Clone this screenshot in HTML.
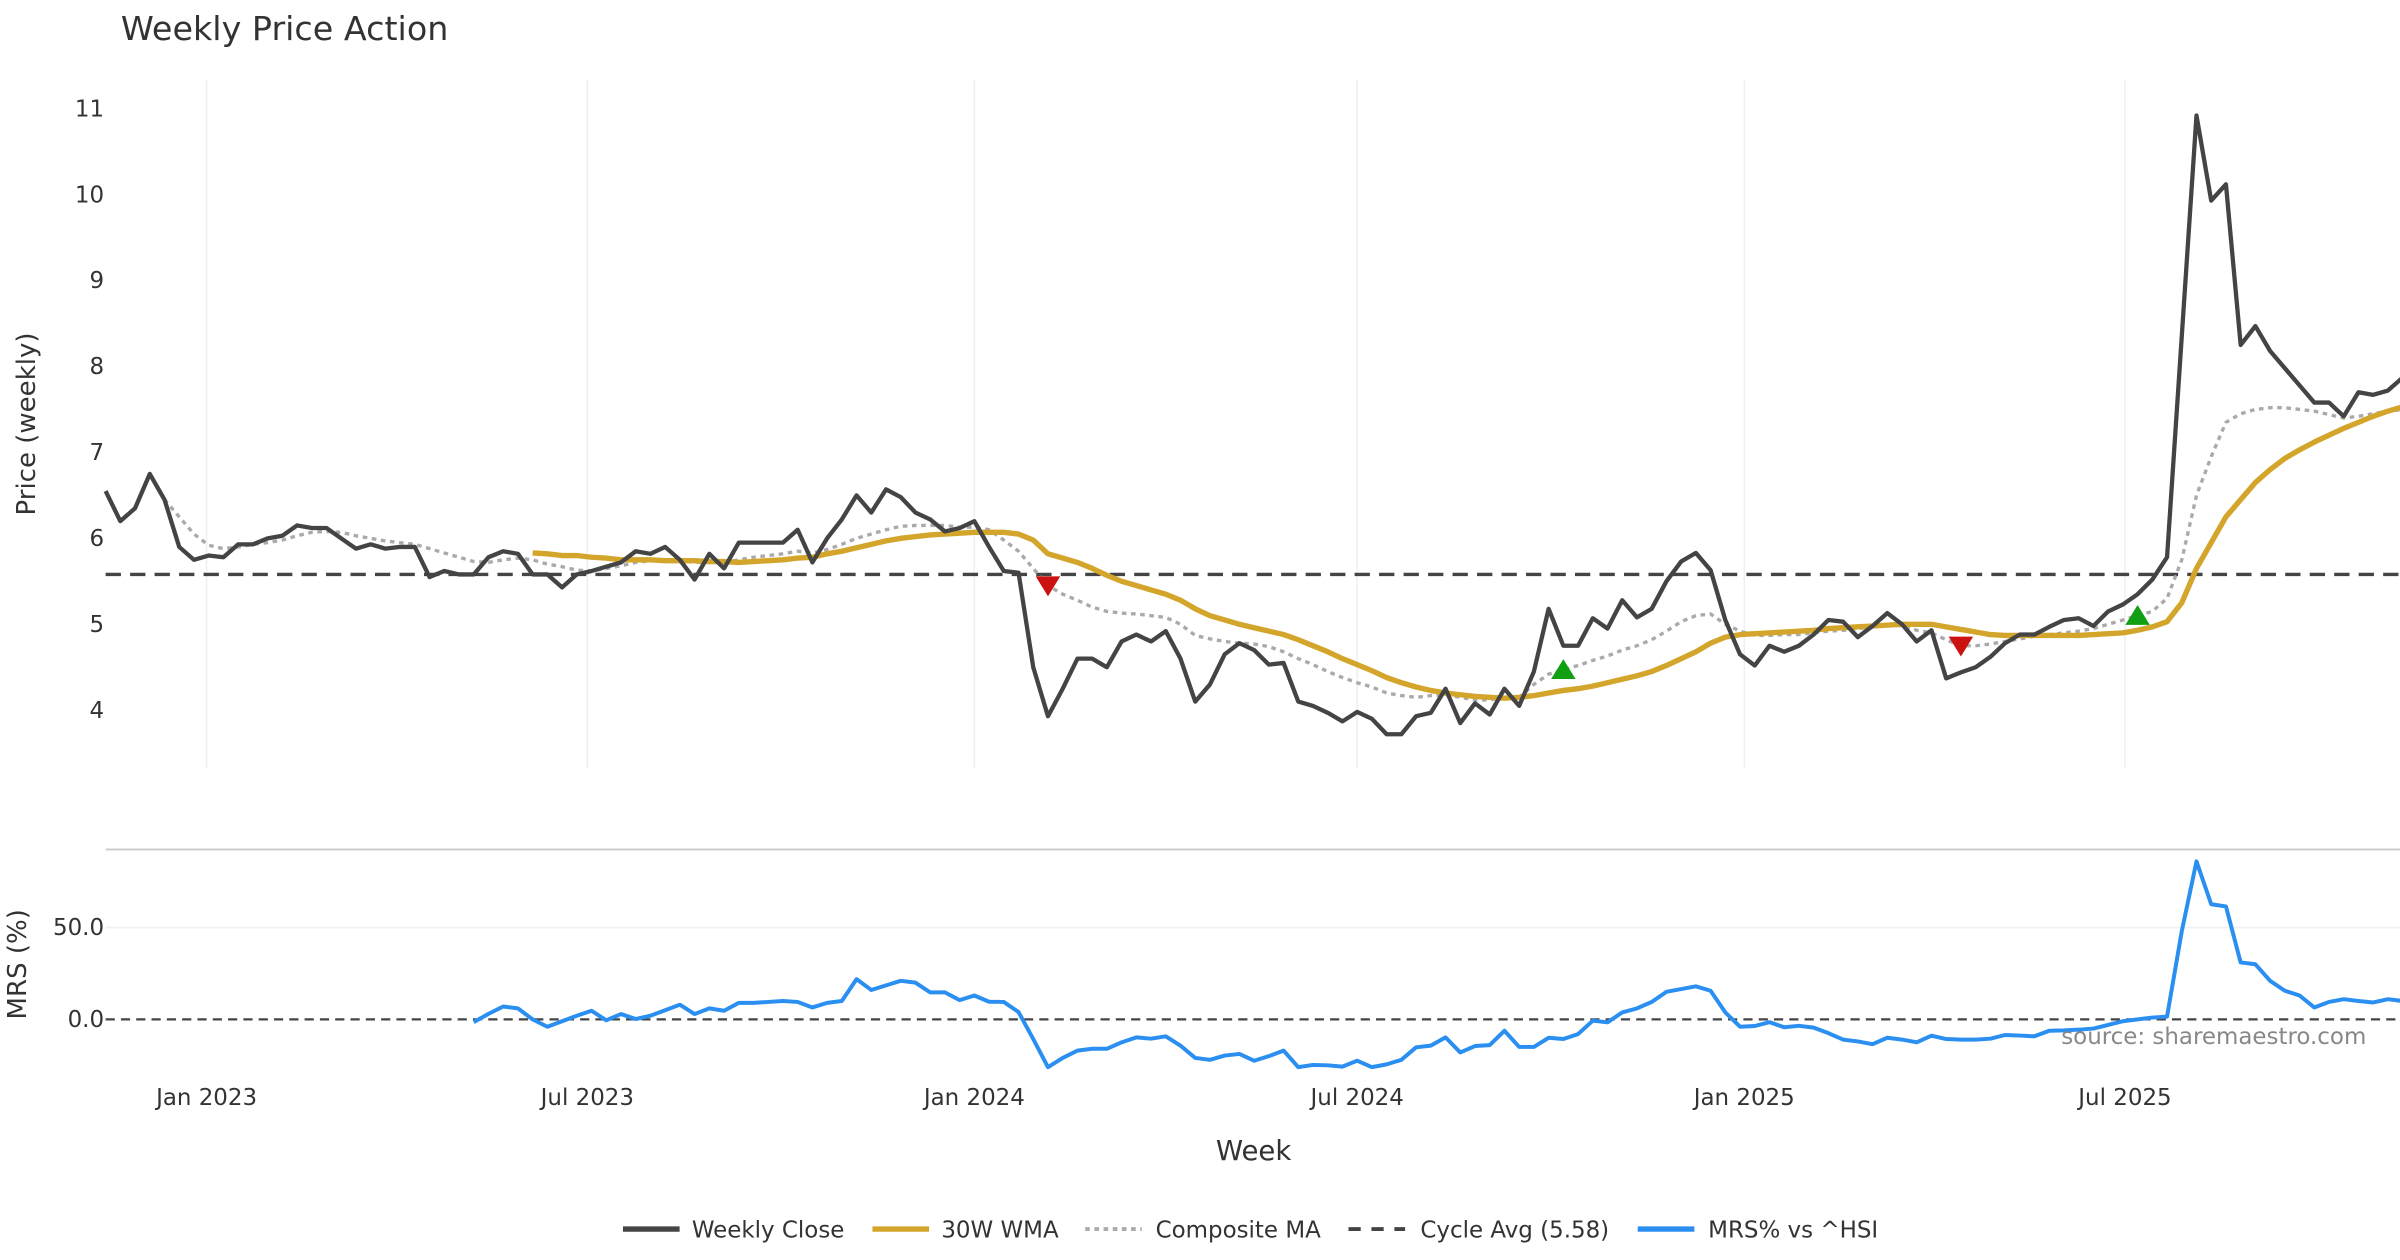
<!DOCTYPE html>
<html><head><meta charset="utf-8">
<style>
html,body{margin:0;padding:0;background:#fff;}
svg{display:block;}
text{font-family:"DejaVu Sans","Liberation Sans",sans-serif;}
</style></head>
<body>
<svg id="chart" width="2400" height="1260" viewBox="0 0 1568 823.2" xmlns="http://www.w3.org/2000/svg">
<rect width="1568" height="823.2" fill="#fff"/>
<text x="79" y="26" font-size="21.8" fill="#333">Weekly Price Action</text>
<g id="grid"></g>
<g id="series"></g>
<g id="axes"></g>
<text transform="translate(23,277) rotate(-90)" text-anchor="middle" font-size="17" fill="#333">Price (weekly)</text>
<text transform="translate(17,630) rotate(-90)" text-anchor="middle" font-size="17" fill="#333">MRS (%)</text>
<text x="819" y="758" text-anchor="middle" font-size="18" fill="#333">Week</text>
<text x="1546" y="682" text-anchor="end" font-size="15" fill="#888">source: sharemaestro.com</text>
<g id="legend"></g>
</svg>
<script>
const closeVals=[6.55,6.2,6.35,6.75,6.45,5.9,5.75,5.8,5.78,5.93,5.93,6.0,6.03,6.15,6.12,6.12,6.0,5.88,5.93,5.88,5.9,5.9,5.55,5.62,5.58,5.58,5.78,5.85,5.82,5.58,5.58,5.43,5.58,5.62,5.67,5.72,5.85,5.82,5.9,5.75,5.52,5.82,5.65,5.95,5.95,5.95,5.95,6.1,5.72,6.0,6.22,6.5,6.3,6.57,6.48,6.3,6.22,6.08,6.12,6.2,5.9,5.62,5.6,4.5,3.93,4.25,4.6,4.6,4.5,4.8,4.88,4.8,4.92,4.6,4.1,4.3,4.65,4.78,4.7,4.53,4.55,4.1,4.05,3.97,3.87,3.98,3.9,3.72,3.72,3.93,3.97,4.25,3.85,4.08,3.95,4.25,4.05,4.45,5.18,4.75,4.75,5.07,4.95,5.28,5.08,5.18,5.5,5.73,5.83,5.63,5.05,4.65,4.52,4.75,4.68,4.75,4.88,5.05,5.03,4.85,4.98,5.13,5.0,4.8,4.93,4.37,4.44,4.5,4.62,4.78,4.88,4.88,4.97,5.05,5.07,4.98,5.15,5.23,5.35,5.52,5.78,8.35,10.92,9.93,10.12,8.25,8.47,8.18,7.98,7.78,7.58,7.58,7.42,7.7,7.67,7.72,7.87];
const wmaStart=29;
const wmaVals=[5.83,5.82,5.8,5.8,5.78,5.77,5.75,5.75,5.75,5.74,5.74,5.74,5.73,5.73,5.72,5.73,5.74,5.75,5.77,5.78,5.82,5.85,5.89,5.93,5.97,6.0,6.02,6.04,6.05,6.06,6.07,6.07,6.07,6.05,5.98,5.82,5.77,5.72,5.65,5.57,5.5,5.45,5.4,5.35,5.28,5.18,5.1,5.05,5.0,4.96,4.92,4.88,4.82,4.75,4.68,4.6,4.53,4.46,4.38,4.32,4.27,4.23,4.2,4.18,4.16,4.15,4.14,4.15,4.17,4.2,4.23,4.25,4.28,4.32,4.36,4.4,4.45,4.52,4.6,4.68,4.78,4.85,4.88,4.89,4.9,4.91,4.92,4.93,4.95,4.96,4.97,4.98,4.99,5.0,5.0,5.0,4.97,4.94,4.91,4.88,4.87,4.87,4.87,4.87,4.87,4.87,4.88,4.89,4.9,4.93,4.97,5.03,5.25,5.65,5.95,6.25,6.45,6.65,6.8,6.93,7.03,7.12,7.2,7.28,7.35,7.42,7.48,7.53];
const compStart=4;
const compVals=[6.45,6.25,6.05,5.92,5.88,5.9,5.93,5.95,5.98,6.03,6.07,6.08,6.07,6.03,6.0,5.97,5.95,5.93,5.88,5.83,5.78,5.73,5.72,5.75,5.77,5.75,5.7,5.67,5.63,5.62,5.65,5.68,5.72,5.74,5.75,5.75,5.72,5.72,5.72,5.75,5.78,5.8,5.82,5.85,5.83,5.87,5.93,6.0,6.05,6.1,6.14,6.15,6.15,6.15,6.13,6.13,6.1,5.98,5.85,5.65,5.45,5.35,5.28,5.2,5.15,5.13,5.12,5.1,5.08,5.0,4.87,4.83,4.8,4.78,4.77,4.74,4.68,4.6,4.53,4.45,4.38,4.32,4.27,4.2,4.17,4.15,4.17,4.18,4.15,4.12,4.12,4.15,4.15,4.3,4.42,4.47,4.52,4.58,4.63,4.7,4.75,4.82,4.92,5.03,5.1,5.12,5.0,4.92,4.87,4.87,4.88,4.88,4.9,4.92,4.93,4.95,4.97,5.0,4.98,4.93,4.9,4.82,4.75,4.75,4.77,4.8,4.83,4.86,4.88,4.9,4.92,4.95,5.0,5.05,5.1,5.15,5.3,5.75,6.5,6.95,7.35,7.45,7.5,7.52,7.52,7.5,7.48,7.44,7.4,7.42,7.45,7.48,7.5];
const mrsStart=25;
const mrsVals=[-1.5,3,7,6,0,-4,-1,2,4.7,-0.5,2.9,0.2,2,5,8,2.9,6,4.7,9,9,9.5,10,9.5,6.5,9,10,21.9,16,18.5,21,20,14.7,14.7,10.5,13,9.6,9.5,4,-10.7,-26,-21,-17,-16,-16,-12.5,-9.8,-10.5,-9.2,-14.3,-21,-22,-19.7,-18.8,-22.5,-20,-17,-26,-24.8,-25,-25.7,-22.5,-26,-24.5,-22,-15.2,-14.3,-9.8,-18,-14.5,-14,-6.2,-15,-15,-10,-10.7,-8,-0.7,-1.6,3.8,6,9.5,15,16.5,18,15.6,3.8,-4,-3.6,-1.5,-4.3,-3.5,-4.5,-7.5,-11,-12,-13.5,-10,-11,-12.5,-8.9,-10.7,-11,-11,-10.5,-8.5,-8.8,-9.2,-6.2,-6,-5.6,-5,-3,-1,0,1,1.5,48,86,62.7,61.5,31,30,21,15.6,13,6.5,9.5,11,10,9.2,11,10];
const sellSignals=[64,126];
const buySignals=[99,138];
const cycleAvg=5.58;
const priceTicks=[4,5,6,7,8,9,10,11];
const mrsTicks=[0,50];
const mrsTickLabels=["0.0","50.0"];
const dateTicks=["2023-01-01","2023-07-01","2024-01-01","2024-07-01","2025-01-01","2025-07-01"];
const dateTickLabels=["Jan 2023","Jul 2023","Jan 2024","Jul 2024","Jan 2025","Jul 2025"];

const NS="http://www.w3.org/2000/svg";
const X0=69, WK=9.62, START=Date.UTC(2022,10,14);
const xw=i=>X0+i*WK;
const xd=s=>{const d=new Date(s+"T00:00:00Z");return X0+(d-START)/864e5/7*WK;};
const yp=v=>464-(v-4)*56.143;
const ym=v=>666-v*1.2;
function mk(tag,attrs,parent){const e=document.createElementNS(NS,tag);for(const k in attrs)e.setAttribute(k,attrs[k]);parent.appendChild(e);return e;}
const grid=document.getElementById('grid'),ser=document.getElementById('series'),axes=document.getElementById('axes'),leg=document.getElementById('legend');

dateTicks.forEach((d,k)=>{
  const x=xd(d);
  const g=mk('line',{x1:x,x2:x,y1:52,y2:502,stroke:'#eef0f3','stroke-width':1},grid);
  
  
  const t=mk('text',{x:x,y:722,'text-anchor':'middle','font-size':15,fill:'#333'},axes);
  t.textContent=dateTickLabels[k];
  
  
});
priceTicks.forEach(v=>{
  const t=mk('text',{x:68,y:yp(v)+5,'text-anchor':'end','font-size':15,fill:'#333'},axes);
  t.textContent=v;
  
  
});
mrsTicks.forEach((v,k)=>{
  const t=mk('text',{x:68,y:ym(v)+5,'text-anchor':'end','font-size':15,fill:'#333'},axes);
  t.textContent=mrsTickLabels[k];
  
  
  if(v!==0){const g=mk('line',{x1:69,x2:1568,y1:ym(v),y2:ym(v),stroke:'#eef0f3','stroke-width':1},grid);
  
  }
});
const sep=mk('line',{x1:69,x2:1568,y1:555,y2:555,stroke:'#ccc','stroke-width':1.3},grid);


const z=mk('line',{x1:69,x2:1568,y1:ym(0),y2:ym(0),stroke:'#444','stroke-width':1.5,'stroke-dasharray':'6,4'},grid);



function path(vals,start,yf,style,name){
  const d=vals.map((v,k)=>(k?'L':'M')+xw(start+k).toFixed(2)+' '+yf(v).toFixed(2)).join('');
  const p=mk('path',Object.assign({d:d,fill:'none','stroke-linejoin':'round'},style),ser);
  
  
}
const ca=mk('line',{x1:69,x2:1568,y1:yp(cycleAvg),y2:yp(cycleAvg),stroke:'#444','stroke-width':2.2,'stroke-dasharray':'10,6'},ser);


path(compVals,compStart,yp,{stroke:'#aaa','stroke-width':2.2,'stroke-dasharray':'3,3'},'composite-ma-line');
path(wmaVals,wmaStart,yp,{stroke:'#d4a52b','stroke-width':3.5},'wma-30w-line');
path(closeVals,0,yp,{stroke:'#444','stroke-width':2.8},'weekly-close-line');
path(mrsVals,mrsStart,ym,{stroke:'#2a8ff0','stroke-width':2.6},'mrs-line');
function compAt(i){return compVals[i-compStart];}
sellSignals.forEach(i=>{
  const x=xw(i),y=yp(compAt(i));
  const t=mk('polygon',{points:`${x-8},${y-6} ${x+8},${y-6} ${x},${y+7}`,fill:'#cc1111'},ser);
  
  
});
buySignals.forEach(i=>{
  const x=xw(i),y=yp(compAt(i));
  const t=mk('polygon',{points:`${x-8},${y+6} ${x+8},${y+6} ${x},${y-7}`,fill:'#11a011'},ser);
  
  
});
const legItems=[["Weekly Close",407,452,{stroke:'#444','stroke-width':3.5}],["30W WMA",570,615,{stroke:'#d4a52b','stroke-width':3.5}],["Composite MA",709,755,{stroke:'#aaa','stroke-width':2.5,'stroke-dasharray':'3,3'}],["Cycle Avg (5.58)",881,928,{stroke:'#444','stroke-width':2.5,'stroke-dasharray':'8,7'}],["MRS% vs ^HSI",1070,1116,{stroke:'#2a8ff0','stroke-width':3.5}]];
legItems.forEach(it=>{
  const l=mk('line',Object.assign({x1:it[1],x2:it[1]+37,y1:803,y2:803},it[3]),leg);
  
  
  const t=mk('text',{x:it[2],y:808.5,'font-size':15,fill:'#333'},leg);
  t.textContent=it[0];
  
  
});
</script>
</body></html>
